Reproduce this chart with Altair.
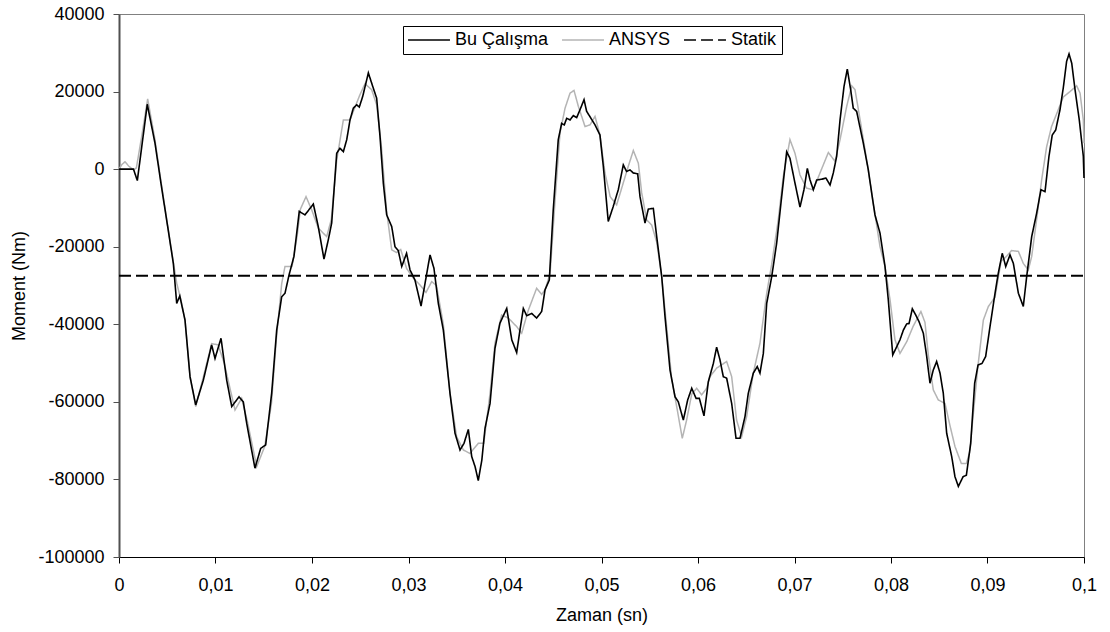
import altair as alt
import pandas as pd

# ---- data ----
t_bu = [0.0, 0.0015, 0.0019, 0.00293, 0.00373, 0.0044, 0.0051, 0.00563, 0.00598, 0.0063,
        0.00684, 0.00736, 0.00795, 0.00874, 0.0096, 0.00995, 0.01057, 0.01116, 0.01168, 0.01244,
        0.01288, 0.01323, 0.01409, 0.01468, 0.0152, 0.01582, 0.01634, 0.01686, 0.0172, 0.01762,
        0.01813, 0.01868, 0.01927, 0.02014, 0.02065, 0.02124, 0.02169, 0.02204, 0.02256, 0.0229,
        0.02325, 0.0236, 0.02394, 0.02428, 0.02463, 0.0249, 0.02525, 0.02584, 0.02635, 0.0267,
        0.02705, 0.02739, 0.02774, 0.02826, 0.0286, 0.02894, 0.0293, 0.0298, 0.03016, 0.03067,
        0.0313, 0.03171, 0.03223, 0.03264, 0.03309, 0.03361, 0.0343, 0.03482, 0.03534, 0.03575,
        0.0362, 0.03655, 0.0369, 0.03723, 0.0376, 0.03793, 0.03845, 0.03896, 0.03948, 0.04018,
        0.0407, 0.04121, 0.04155, 0.0419, 0.04225, 0.04277, 0.04328, 0.0438, 0.04415, 0.04459,
        0.045, 0.04552, 0.04587, 0.04614, 0.04639, 0.04674, 0.04708, 0.04743, 0.04777, 0.04819,
        0.04846, 0.04891, 0.04933, 0.04984, 0.05019, 0.0507, 0.05122, 0.05174, 0.05226, 0.0526,
        0.05295, 0.0533, 0.05375, 0.05399, 0.05451, 0.05485, 0.05537, 0.05572, 0.05624, 0.05658,
        0.0571, 0.05762, 0.05796, 0.05848, 0.05893, 0.05935, 0.0598, 0.06014, 0.06062, 0.06107,
        0.06159, 0.06193, 0.06228, 0.06262, 0.06297, 0.06349, 0.06394, 0.06435, 0.06487, 0.06521,
        0.06573, 0.06614, 0.06642, 0.06677, 0.06712, 0.06764, 0.06815, 0.06867, 0.06919, 0.06953,
        0.07005, 0.07057, 0.07098, 0.07133, 0.07161, 0.07195, 0.0723, 0.07282, 0.07326, 0.07368,
        0.07402, 0.07437, 0.07472, 0.07513, 0.07547, 0.07582, 0.07609, 0.07644, 0.07713, 0.07765,
        0.078, 0.07834, 0.07886, 0.07938, 0.07972, 0.08018, 0.08059, 0.08093, 0.08128, 0.08163,
        0.08187, 0.08221, 0.08256, 0.0829, 0.08335, 0.0837, 0.08404, 0.08438, 0.08473, 0.08508,
        0.08542, 0.08577, 0.08629, 0.08663, 0.08698, 0.08747, 0.08781, 0.08826, 0.08867, 0.08902,
        0.08943, 0.08981, 0.09026, 0.09078, 0.09112, 0.09153, 0.09189, 0.09233, 0.09268, 0.0932,
        0.09371, 0.09406, 0.09458, 0.09509, 0.09554, 0.09596, 0.09637, 0.09671, 0.09707, 0.09751,
        0.09785, 0.0982, 0.09845, 0.09873, 0.09907, 0.09951, 0.09993, 0.1]
v_bu = [0, 0, -2950, 16700, 6700, -4500, -15700, -24300, -34600, -32700,
        -38900, -53500, -60800, -54400, -45300, -48800, -43600, -54400, -61200, -58700,
        -60000, -65500, -77100, -72000, -71100, -57800, -41500, -32900, -32000, -27300,
        -22500, -10900, -11800, -9000, -14800, -23200, -18200, -13900, 4100, 5400,
        4500, 7600, 12700, 15700, 16600, 16000, 18700, 24800, 20900, 18300,
        8400, -3600, -11800, -14800, -20000, -21000, -25100, -21700, -26000, -28600,
        -35300, -29500, -22100, -25600, -34600, -41500, -57800, -68100, -72400, -70700,
        -67100, -74100, -76700, -80300, -75000, -66800, -60400, -46200, -39700, -35900,
        -44000, -47300, -41500, -35900, -37800, -37200, -38400, -36700, -31100, -28600,
        -10500, 7600, 11800, 11400, 13100, 12700, 13800, 13300, 15300, 17900,
        14900, 13100, 11400, 8800, 700, -13500, -9600, -5300, 1100, -600,
        -200, -1000, -1200, -7100, -13900, -10300, -10100, -17400, -27700, -38000,
        -51800, -58700, -60000, -64700, -59500, -56500, -59100, -59100, -63600, -54800,
        -50100, -45900, -49200, -53500, -53900, -60400, -69400, -69400, -63800, -57800,
        -52600, -50900, -52600, -47500, -34600, -27700, -19100, -7100, 4500, 2800,
        -3600, -9800, -5300, 200, -2800, -5300, -2800, -2600, -2300, -4100,
        -1000, 3300, 12700, 21300, 25800, 20500, 15700, 14900, 6700, -200,
        -6200, -11800, -16500, -25100, -33700, -47900, -45800, -44000, -41500, -39900,
        -39800, -36000, -37600, -39300, -42300, -48300, -55200, -51800, -49600, -52600,
        -57800, -68100, -74100, -79300, -81800, -79300, -78900, -70700, -55200, -50500,
        -50100, -48300, -40600, -32000, -26800, -21700, -25100, -22100, -24300, -32000,
        -35400, -27700, -17400, -11400, -5300, -5800, 3300, 8800, 10100, 15300,
        20900, 27800, 29700, 27300, 20500, 12700, 3300, -2300]

t_ansys = [0.0, 0.0003, 0.00062, 0.001, 0.0015, 0.0018, 0.00235, 0.00297, 0.0037, 0.0044,
           0.0051, 0.0056, 0.00598, 0.0064, 0.00684, 0.00736, 0.00795, 0.0087, 0.0096, 0.01027,
           0.0109, 0.01202, 0.01271, 0.0133, 0.01427, 0.0151, 0.0158, 0.0163, 0.01686, 0.0172,
           0.01793, 0.01845, 0.0188, 0.01938, 0.01997, 0.02065, 0.02152, 0.022, 0.02256, 0.02325,
           0.02394, 0.0243, 0.02497, 0.02549, 0.02618, 0.0267, 0.0272, 0.02774, 0.02826, 0.02877,
           0.02919, 0.0298, 0.0305, 0.0312, 0.03181, 0.0324, 0.0329, 0.03361, 0.0343, 0.03499,
           0.03568, 0.03637, 0.03723, 0.0378, 0.03845, 0.03896, 0.03965, 0.04035, 0.04121, 0.04173,
           0.0424, 0.04328, 0.0438, 0.04415, 0.04467, 0.04519, 0.0457, 0.04622, 0.04674, 0.04715,
           0.0476, 0.04829, 0.04881, 0.04933, 0.04984, 0.05036, 0.0509, 0.05157, 0.05208, 0.05277,
           0.0533, 0.05382, 0.05416, 0.05468, 0.0552, 0.05572, 0.05624, 0.05675, 0.05727, 0.05779,
           0.05837, 0.05882, 0.05935, 0.05986, 0.06038, 0.0609, 0.06124, 0.06193, 0.06297, 0.06349,
           0.064, 0.06452, 0.06504, 0.06573, 0.06642, 0.06712, 0.06764, 0.06832, 0.06884, 0.06953,
           0.07005, 0.07057, 0.07124, 0.07195, 0.07264, 0.07351, 0.0742, 0.07472, 0.07541, 0.07593,
           0.07627, 0.0768, 0.07748, 0.07817, 0.07886, 0.07938, 0.0799, 0.08041, 0.08093, 0.08163,
           0.08228, 0.0831, 0.08352, 0.08387, 0.08438, 0.0849, 0.0856, 0.0861, 0.08663, 0.08729,
           0.08781, 0.08815, 0.08867, 0.08902, 0.08957, 0.09009, 0.09078, 0.0914, 0.09196, 0.09248,
           0.0932, 0.09371, 0.09423, 0.09458, 0.09509, 0.09561, 0.09613, 0.09664, 0.09733, 0.09785,
           0.09855, 0.09924, 0.09959, 0.09993, 0.1]
v_ansys = [0, 1200, 1900, 800, -200, 300, 8400, 18100, 8000, -4000,
           -15500, -23500, -29400, -33500, -38900, -53500, -61200, -54000, -45000, -45300,
           -50000, -62100, -59100, -65000, -76700, -71500, -60400, -44000, -29500, -25100,
           -25100, -17400, -10300, -7100, -10500, -15200, -17400, -13000, 2300, 12700,
           12700, 15000, 19200, 22000, 20500, 16600, 5600, -11000, -20800, -21500,
           -20700, -25600, -28100, -29900, -31800, -29000, -30000, -40000, -57800, -69000,
           -72400, -73300, -70700, -70700, -57800, -44900, -37600, -38400, -40600, -42300,
           -36500, -30700, -32300, -31100, -27000, -8000, 9300, 15700, 19600, 20300,
           16200, 11000, 11400, 13600, 8800, -1000, -7100, -9200, -5000, 700,
           4800, 1500, -6000, -13100, -14400, -18800, -27700, -40600, -54000, -61200,
           -69400, -64700, -58000, -56500, -58200, -56500, -53500, -51300, -49600, -53500,
           -64700, -69000, -63800, -52600, -44900, -32000, -24500, -13000, -1900, 7600,
           4100, -1500, -4900, -5300, -1000, 4300, 2000, 7600, 16200, 21500,
           20500, 12700, 2400, -8900, -20000, -25100, -33700, -44000, -47500, -44500,
           -40600, -36700, -39500, -48000, -56900, -59500, -60400, -66000, -71500, -75900,
           -75900, -73000, -59500, -50500, -38900, -35400, -33000, -23800, -22500, -21000,
           -21200, -24300, -26000, -22500, -13000, -2800, 5800, 11000, 15300, 18600,
           20000, 21500, 19600, 12700, 6700]

t_statik = [0.0, 0.1]
v_statik = [-27500, -27500]

series_names = ["Bu Çalışma", "ANSYS", "Statik"]
series_colors = ["#000000", "#b4b4b4", "#000000"]
series_dashes = [[1, 0], [1, 0], [12, 5]]

x_ticks = [0, 0.01, 0.02, 0.03, 0.04, 0.05, 0.06, 0.07, 0.08, 0.09, 0.1]
y_ticks = [-100000, -80000, -60000, -40000, -20000, 0, 20000, 40000]

FONT = "Liberation Sans"

df_bu = pd.DataFrame({"t": t_bu, "v": v_bu, "s": series_names[0]})
df_an = pd.DataFrame({"t": t_ansys, "v": v_ansys, "s": series_names[1]})
df_st = pd.DataFrame({"t": t_statik, "v": v_statik, "s": series_names[2]})

legend = alt.Legend(
    title=None, orient="none", legendX=284, legendY=12, direction="horizontal",
    symbolType="M-4,0L4,0", symbolSize=110, symbolStrokeWidth=1.5,
    symbolOffset=12, labelOffset=17, columnPadding=10, padding=5,
    strokeColor="#000000", fillColor="#ffffff",
    labelFontSize=18, labelFont=FONT, labelColor="#000000",
)

x_enc = alt.X(
    "t:Q", title="Zaman (sn)",
    scale=alt.Scale(domain=[0, 0.1], nice=False, zero=False),
    axis=alt.Axis(values=x_ticks, labelExpr="replace(format(datum.value, '.2~f'), '.', ',')",
                  grid=False, domainColor="#000000", domainWidth=1.2, tickColor="#000000",
                  tickSize=6, labelPadding=13, titlePadding=12, labelFlush=False,
                  labelOverlap=False),
)
y_enc = alt.Y(
    "v:Q", title="Moment (Nm)",
    scale=alt.Scale(domain=[-100000, 40000], nice=False, zero=False),
    axis=alt.Axis(values=y_ticks, labelExpr="'' + datum.value", grid=False,
                  domainColor="#505050", domainWidth=2, tickColor="#505050", tickSize=6,
                  labelPadding=9, titlePadding=9, labelOverlap=False),
)
color_enc = alt.Color("s:N", scale=alt.Scale(domain=series_names, range=series_colors), legend=legend)
dash_enc = alt.StrokeDash("s:N", scale=alt.Scale(domain=series_names, range=series_dashes), legend=legend)

ansys = alt.Chart(df_an).mark_line(strokeWidth=1.5).encode(x=x_enc, y=y_enc, color=color_enc, strokeDash=dash_enc)
bu = alt.Chart(df_bu).mark_line(strokeWidth=1.6).encode(x=x_enc, y=y_enc, color=color_enc, strokeDash=dash_enc)
statik = alt.Chart(df_st).mark_line(strokeWidth=2).encode(x=x_enc, y=y_enc, color=color_enc, strokeDash=dash_enc)

chart = (
    alt.layer(ansys, bu, statik)
    .properties(
        width=965, height=543,
        autosize=alt.AutoSizeParams(type="none"),
        padding={"left": 119, "top": 14, "right": 26, "bottom": 75},
    )
    .configure(font=FONT)
    .configure_view(stroke="#808080", strokeWidth=1)
    .configure_axis(labelFontSize=18, titleFontSize=18, labelFont=FONT, titleFont=FONT,
                    labelColor="#000000", titleColor="#000000", titleFontWeight="normal")
)

chart.save("out.html", embed_options={"renderer": "svg", "actions": False})
